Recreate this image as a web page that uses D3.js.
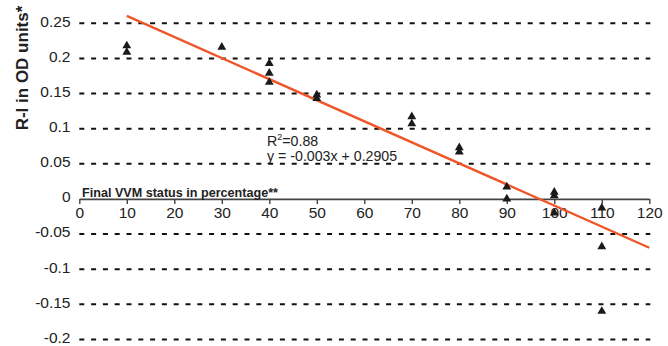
<!DOCTYPE html>
<html>
<head>
<meta charset="utf-8">
<script src="https://cdn.jsdelivr.net/npm/d3@7/dist/d3.min.js"></script>
<style>
  html, body { margin: 0; padding: 0; background: #fff; }
  svg { display: block; font-family: "Liberation Sans", Arial, sans-serif; }
</style>
</head>
<body>
<svg id="chart" width="668" height="346"></svg>
<script>
// ---- data ----
const xValues = [10, 10, 30, 40, 40, 40, 50, 50, 70, 70, 80, 80, 90, 90, 100, 100, 100, 110, 110, 110];
const yValues = [0.218, 0.209, 0.216, 0.193, 0.179, 0.166, 0.148, 0.143, 0.117, 0.107, 0.073, 0.067, 0.017, 0.0, 0.0095, 0.0047, -0.020, -0.013, -0.068, -0.160];
const xTicks = [0, 10, 20, 30, 40, 50, 60, 70, 80, 90, 100, 110, 120];
const yTicks = [0.25, 0.2, 0.15, 0.1, 0.05, 0, -0.05, -0.1, -0.15, -0.2];
const yTickLabels = ["0.25", "0.2", "0.15", "0.1", "0.05", "0", "-0.05", "-0.1", "-0.15", "-0.2"];
const trendSlope = -0.003;
const trendIntercept = 0.2905;
const trendXRange = [10, 120];
const yTitle = "R-I in OD units*";
const xTitle = "Final VVM status in percentage**";
const r2Text = "0.88";
const eqText = "y = -0.003x + 0.2905";

// ---- layout ----
const svg = d3.select("#chart");
const x = d3.scaleLinear().domain([0, 120]).range([79.3, 649.3]);
const y = d3.scaleLinear().domain([-0.2, 0.25]).range([339.4, 23.3]);

// gridlines (dashed), except zero
svg.append("g").selectAll("line")
  .data(yTicks.filter(d => d !== 0))
  .join("line")
  .attr("x1", x(0)).attr("x2", x(120) + 1)
  .attr("y1", d => y(d)).attr("y2", d => y(d))
  .attr("stroke", "#111").attr("stroke-width", 2)
  .attr("stroke-dasharray", "5,6.8");

// y tick labels
svg.append("g").selectAll("text")
  .data(yTicks)
  .join("text")
  .attr("x", 70.5)
  .attr("y", d => y(d))
  .attr("dy", "0.22em")
  .attr("text-anchor", "end")
  .attr("font-size", "15.5px")
  .attr("fill", "#222")
  .text((d, i) => yTickLabels[i]);

// x axis at y = 0
const xAxis = d3.axisBottom(x).tickValues(xTicks).tickSize(5).tickSizeOuter(0).tickFormat(d3.format("d"));
const gx = svg.append("g").attr("transform", `translate(0,${y(0)})`).call(xAxis);
gx.select(".domain").attr("stroke", "#444").attr("stroke-width", 1.6);
gx.selectAll(".tick line").attr("stroke", "#444").attr("stroke-width", 1.4);
gx.selectAll(".tick text")
  .attr("font-size", "15.5px")
  .attr("font-family", "Liberation Sans, Arial, sans-serif")
  .attr("fill", "#222")
  .attr("y", 8.5);

// x title
svg.append("text")
  .attr("x", 82).attr("y", 196.5)
  .attr("font-size", "12.6px").attr("font-weight", "bold")
  .attr("fill", "#222")
  .text(xTitle);

// y title
svg.append("text")
  .attr("transform", `translate(28,68) rotate(-90)`)
  .attr("text-anchor", "middle")
  .attr("font-size", "17px").attr("font-weight", "bold")
  .attr("fill", "#222")
  .text(yTitle);

// trend line
const trendPts = trendXRange.map(v => [v, trendSlope * v + trendIntercept]);
svg.append("path")
  .attr("d", d3.line().x(d => x(d[0])).y(d => y(d[1]))(trendPts))
  .attr("stroke", "#f05528").attr("stroke-width", 2.4).attr("fill", "none");

// points
const tri = d3.symbol().type(d3.symbolTriangle).size(34);
svg.append("g").selectAll("path")
  .data(xValues.map((v, i) => [v, yValues[i]]))
  .join("path")
  .attr("d", tri)
  .attr("transform", d => `translate(${x(d[0])},${y(d[1])})`)
  .attr("fill", "#1a1a1a");

// equation text
const r2 = svg.append("text").attr("x", 267).attr("y", 146)
  .attr("font-size", "14.2px").attr("fill", "#222");
r2.append("tspan").text("R");
r2.append("tspan").attr("dy", -6).attr("font-size", "9px").text("2");
r2.append("tspan").attr("dy", 6).text("=" + r2Text);

svg.append("text").attr("x", 267).attr("y", 160.5)
  .attr("font-size", "14.2px").attr("fill", "#222")
  .text(eqText);
</script>
</body>
</html>
